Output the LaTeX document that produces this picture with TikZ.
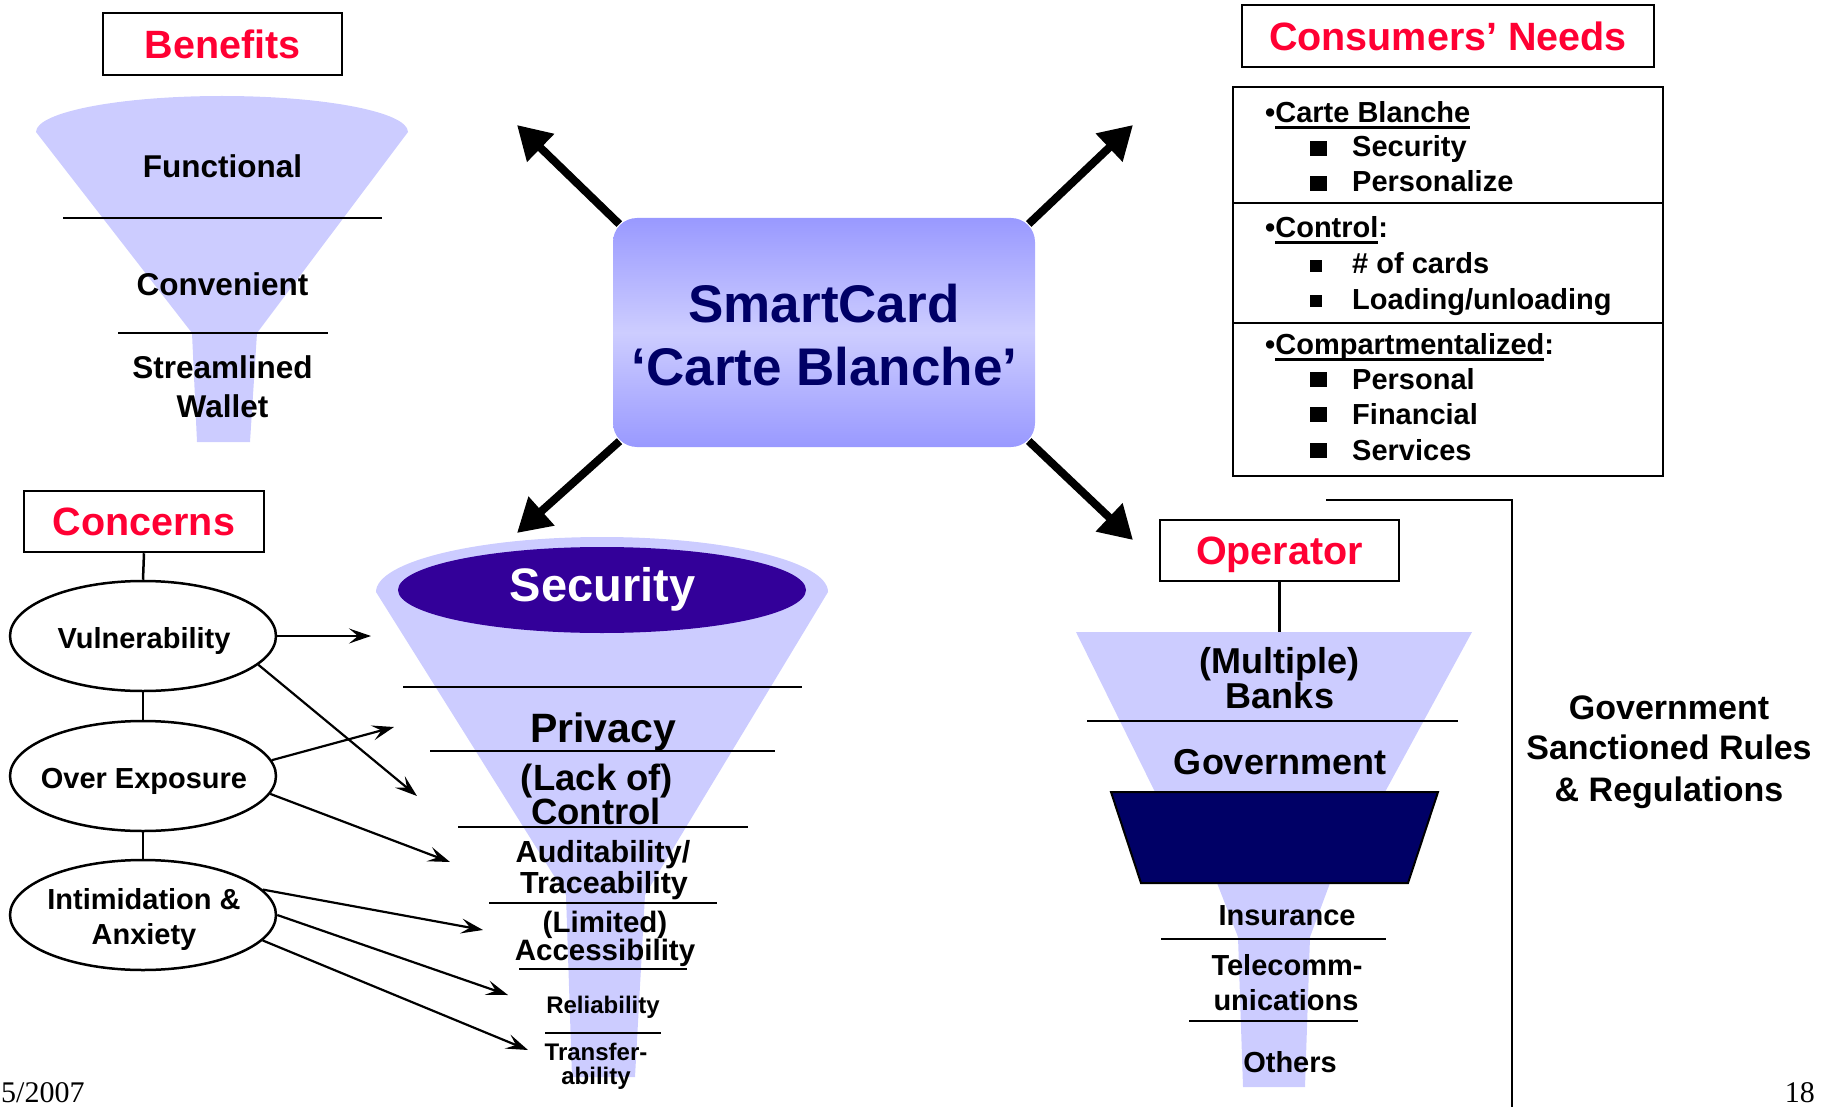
\documentclass[tikz,border=0pt]{standalone}
\usepackage{fontspec}
\setmainfont{Liberation Sans}
\newfontfamily\serifnum{Liberation Serif}
\usetikzlibrary{arrows.meta,shapes.geometric}
\definecolor{funnel}{HTML}{CCCCFF}
\definecolor{cardtop}{HTML}{9999FF}
\definecolor{cardmid}{HTML}{CDCDFF}
\definecolor{navy}{HTML}{000066}
\definecolor{secpurple}{HTML}{330099}
\definecolor{titlered}{RGB}{255,0,51}
\newcommand\fsz[1]{\fontsize{#1}{#1}\selectfont}
\newsavebox\ulbox
\newcommand\ulx[1]{\sbox\ulbox{#1}\rlap{\rule[-6.5pt]{\wd\ulbox}{3pt}}\usebox\ulbox}
\begin{document}
\begin{tikzpicture}[x=1pt,y=-1pt,
  txt/.style={inner sep=0pt, anchor=base, font=\bfseries\fsz{#1}},
  lst/.style={inner sep=0pt, anchor=base west, font=\bfseries\fsz{29}},
  titlebox/.style={draw=black, line width=2.5pt, inner sep=0pt, text=titlered,
    font=\bfseries\fsz{39.5}, text height=28.5pt, text depth=0pt},
  conc/.style={ellipse, draw=black, line width=2.5pt, minimum width=266pt,
    minimum height=110pt, inner sep=0pt},
  fline/.style={draw=black, line width=2.5pt},
  link/.style={draw=black, line width=2.5pt},
  bigarrow/.style={line width=8pt, -{Triangle[length=33pt,width=37pt]}, shorten <=-9pt},
  thinarrow/.style={line width=2.2pt, -{Stealth[length=22pt,width=15pt,inset=9pt]}},
  bigsq/.style={fill=black},
]
\useasboundingbox (0,0) rectangle (1822,1107);

% ---------------- Benefits ----------------
\node[titlebox, minimum width=239pt, minimum height=62pt] (benefits) at (222.5,44) {Benefits};
\fill[funnel] (36,132) arc[start angle=180,end angle=360,x radius=186,y radius=36]
  -- (257,333) -- (250,442) -- (197,442) -- (192,333) -- cycle;
\draw[fline] (63,218) -- (382,218);
\draw[fline] (118,333) -- (328,333);
\node[txt=31.5] (functional) at (222.5,178) {Functional};
\node[txt=31.5] (convenient) at (222.5,295) {Convenient};
\node[txt=31.5] (streamlined) at (222.5,378) {Streamlined};
\node[txt=31.5] (wallet) at (222.5,417) {Wallet};

% ---------------- SmartCard ----------------
\node[rounded corners=24pt, minimum width=422pt, minimum height=229pt, inner sep=0pt,
  top color=cardtop, bottom color=cardtop, middle color=cardmid] (card) at (824,332.5) {};
\node[txt=53, text=navy] (smart) at (824,322) {SmartCard};
\node[txt=53, text=navy] (carte) at (824.5,385) {‘Carte Blanche’};
\coordinate (tipTL) at (517,125);
\coordinate (tipTR) at (1133,125);
\coordinate (tipBL) at (517,533);
\coordinate (tipBR) at (1133,540);
\draw[bigarrow] (card.north west) -- (tipTL);
\draw[bigarrow] (card.north east) -- (tipTR);
\draw[bigarrow] (card.south west) -- (tipBL);
\draw[bigarrow] (card.south east) -- (tipBR);

% ---------------- Consumers' Needs ----------------
\node[titlebox, minimum width=412pt, minimum height=62pt] (needs) at (1448,36) {Consumers’ Needs};
\draw[line width=2.7pt] (1233,87) rectangle (1663,476);
\draw[line width=2.7pt] (1233,203) -- (1663,203);
\draw[line width=2.7pt] (1233,323) -- (1663,323);
\node[lst] (h1) at (1265,123) {•\ulx{Carte Blanche}};
\node[lst] (i11) at (1352,157) {Security};
\node[lst] (i12) at (1352,192) {Personalize};
\node[lst] (h2) at (1265,238) {•\ulx{Control}:};
\node[lst] (i21) at (1352,273) {\# of cards};
\node[lst] (i22) at (1352,309) {Loading/unloading};
\node[lst] (h3) at (1265,354) {•\ulx{Compartmentalized}:};
\node[lst] (i31) at (1352,389) {Personal};
\node[lst] (i32) at (1352,424) {Financial};
\node[lst] (i33) at (1352,460) {Services};
\fill[bigsq] (1310,141) rectangle (1327,156);
\fill[bigsq] (1310,176) rectangle (1327,191);
\fill[bigsq] (1310,260) rectangle (1322,272);
\fill[bigsq] (1310,295) rectangle (1322,307);
\fill[bigsq] (1310,372) rectangle (1327,387);
\fill[bigsq] (1310,407) rectangle (1327,422);
\fill[bigsq] (1310,443) rectangle (1327,458);

% ---------------- Concerns ----------------
\node[titlebox, minimum width=240pt, minimum height=61pt] (concerns) at (144,521.5) {Concerns};
\node[conc] (vul) at (143,636) {};
\node[conc] (ove) at (143,776) {};
\node[conc] (int) at (143,915) {};
\draw[link] (concerns.south) -- (vul.north);
\draw[link] (vul.south) -- (ove.north);
\draw[link] (ove.south) -- (int.north);
\node[txt=29] (tvul) at (144,648) {Vulnerability};
\node[txt=29] (tove) at (144,788) {Over Exposure};
\node[txt=29] (tint1) at (144,909) {Intimidation \&};
\node[txt=29] (tint2) at (144,944) {Anxiety};

% ---------------- Security funnel ----------------
\fill[funnel] (376,592) arc[start angle=180,end angle=360,x radius=226,y radius=55]
  -- (645,895) -- (635,1077) -- (572,1077) -- (566,895) -- cycle;
\node[ellipse, fill=secpurple, minimum width=408pt, minimum height=86pt, inner sep=0pt] (secell) at (602,590) {};
\node[txt=47, text=white] (security) at (602.5,601) {Security};
\draw[fline] (403,687) -- (802,687);
\draw[fline] (430,751) -- (775,751);
\draw[fline] (458,827) -- (748,827);
\draw[fline] (489,903) -- (717,903);
\draw[fline] (519,969) -- (687,969);
\draw[fline] (545,1033) -- (661,1033);
\node[txt=41] (privacy) at (603,742) {Privacy};
\node[txt=36.5] (lack) at (597,790) {(Lack of)};
\node[txt=36.5] (control) at (596,824) {Control};
\node[txt=30.5] (audit) at (603,862) {Auditability/};
\node[txt=30.5] (trace) at (604,893) {Traceability};
\node[txt=29.5] (limited) at (605,932) {(Limited)};
\node[txt=29.5] (access) at (605,960) {Accessibility};
\node[txt=24] (reliab) at (603,1013) {Reliability};
\node[txt=24] (transf) at (596,1060) {Transfer-};
\node[txt=24] (ability) at (596,1084) {ability};

% concern arrows
\coordinate (a1) at (371,636);
\coordinate (a2) at (417,796);
\coordinate (a3) at (394,727);
\coordinate (a4) at (450,862);
\coordinate (a5) at (483,930);
\coordinate (a6) at (508,995);
\coordinate (a7) at (528,1050);
\draw[thinarrow] (vul.east) -- (a1);
\draw[thinarrow] (vul.-14) -- (a2);
\draw[thinarrow] (ove.7) -- (a3);
\draw[thinarrow] (ove.-8) -- (a4);
\draw[thinarrow] (int.12) -- (a5);
\draw[thinarrow] (int.east) -- (a6);
\draw[thinarrow] (int.-12) -- (a7);

% ---------------- Operator ----------------
\node[titlebox, minimum width=239pt, minimum height=61pt] (operator) at (1279.5,550.5) {Operator};
\fill[funnel] (1076,632) -- (1472,632) -- (1385,792) -- (1330,883) -- (1310,937)
  -- (1305,1087) -- (1243,1087) -- (1238,937) -- (1217,883) -- (1155,792) -- cycle;
\coordinate (optop) at (1279.5,632);
\draw[link] (operator.south) -- (optop);
\filldraw[fill=navy, draw=black, line width=2pt] (1111,792) -- (1438,792) -- (1408,883) -- (1141,883) -- cycle;
\draw[fline] (1087,721) -- (1458,721);
\draw[fline] (1161,939) -- (1386,939);
\draw[fline] (1189,1021) -- (1358,1021);
\node[txt=36] (multiple) at (1279,673) {(Multiple)};
\node[txt=36] (banks) at (1280,708) {Banks};
\node[txt=36] (govt) at (1280,774) {Government};
\node[txt=29] (insur) at (1287,925) {Insurance};
\node[txt=29] (tele1) at (1287,975) {Telecomm-};
\node[txt=29] (tele2) at (1286,1010) {unications};
\node[txt=29] (others) at (1290,1072) {Others};

% bracket and regulation text
\coordinate (brA) at (1326,500);
\coordinate (brB) at (1512,500);
\coordinate (brC) at (1512,1107);
\draw[line width=2.2pt] (brA) -- (brB) -- (brC);
\node[txt=34] (reg1) at (1669,719) {Government};
\node[txt=34] (reg2) at (1669,759) {Sanctioned Rules};
\node[txt=34] (reg3) at (1669,801) {\& Regulations};

% footer
\node[inner sep=0pt, anchor=base west, font=\serifnum\fsz{30}] (date) at (1,1102) {5/2007};
\node[inner sep=0pt, anchor=base east, font=\serifnum\fsz{30}] (page) at (1815,1102) {18};
\end{tikzpicture}
\end{document}
